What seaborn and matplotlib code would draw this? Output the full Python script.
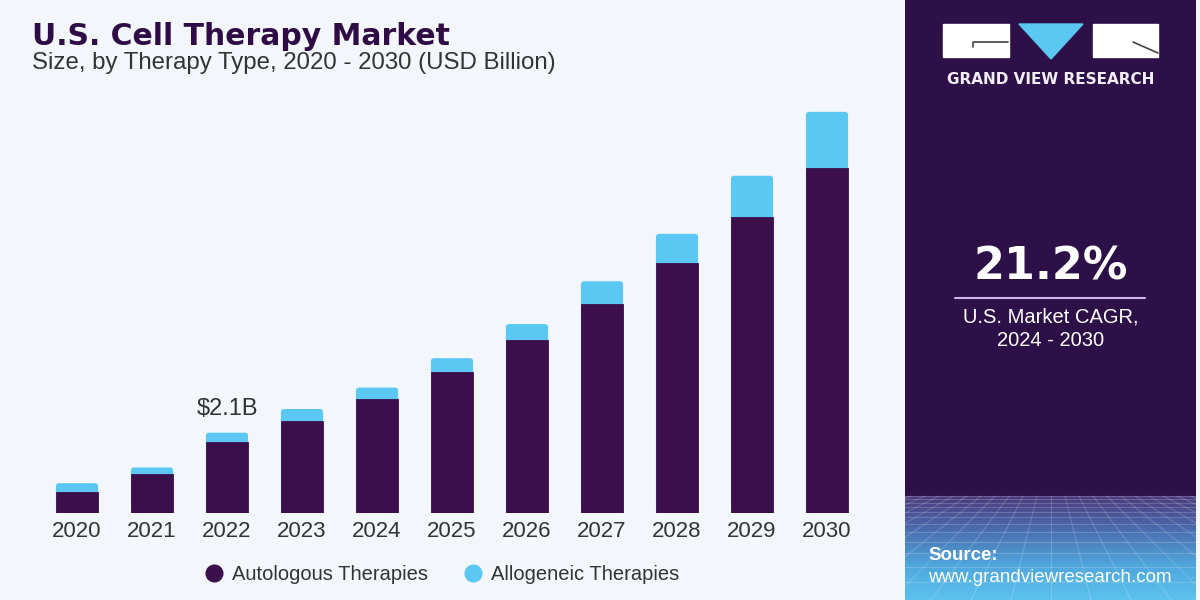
import numpy as np
import pandas as pd
import matplotlib
matplotlib.use("Agg")
import matplotlib.pyplot as plt
import seaborn as sns
from matplotlib.lines import Line2D
from matplotlib.patches import Rectangle, Polygon, FancyBboxPatch
from matplotlib.colors import LinearSegmentedColormap

years = ["2020", "2021", "2022", "2023", "2024", "2025", "2026", "2027", "2028", "2029", "2030"]
autologous = [0.54, 1.01, 1.86, 2.41, 2.97, 3.68, 4.52, 5.47, 6.53, 7.75, 9.01]
allogeneic = [0.24, 0.18, 0.24, 0.31, 0.31, 0.37, 0.42, 0.59, 0.77, 1.07, 1.48]
series_names = ["Autologous Therapies", "Allogeneic Therapies"]
annot_year = "2022"
annot_text = "$2.1B"

BG = "#f3f6fa"
DARK = "#3a0f4b"
LIGHT = "#5ac8f3"
PANEL = "#2e1048"
TITLE = "#2f0c45"

sns.set_theme(style="white")
plt.rcParams["font.family"] = ["Liberation Sans", "DejaVu Sans"]

df = pd.DataFrame({"year": years, "auto": autologous, "allo": allogeneic})
df["total"] = df["auto"] + df["allo"]

fig = plt.figure(figsize=(12, 6), dpi=100, facecolor=BG)
ax = fig.add_axes([39.5 / 1200, 87 / 600, 825 / 1200, 413 / 600])
ax.set_facecolor(BG)

sns.barplot(data=df, x="year", y="total", color=LIGHT, width=0.57, saturation=1, linewidth=0,
            edgecolor="none", ax=ax)
# round the top corners of the stacked totals
for p in list(ax.patches):
    x, y, w, h = p.get_x(), p.get_y(), p.get_width(), p.get_height()
    rb = FancyBboxPatch((x + 0.004, y), w - 0.008, h, boxstyle="round,pad=0,rounding_size=0.045",
                        mutation_aspect=1.96, facecolor=LIGHT, edgecolor="none", linewidth=0)
    p.remove()
    ax.add_patch(rb)
sns.barplot(data=df, x="year", y="auto", color=DARK, width=0.57, saturation=1, linewidth=0.6,
            edgecolor=DARK, ax=ax)

ax.set_xlim(-0.5, 10.5)
ax.set_ylim(0, 10.8)
ax.set_xlabel("")
ax.set_ylabel("")
ax.set_yticks([])
for s in ax.spines.values():
    s.set_visible(False)
ax.tick_params(axis="x", length=0, pad=6, labelsize=16, labelcolor="#333333")

i = years.index(annot_year)
ax.text(i, df["total"][i] + 0.47, annot_text, ha="center", va="baseline", fontsize=17, color="#333333")

# Titles
fig.text(32 / 1200, 1 - 45 / 600, "U.S. Cell Therapy Market", fontsize=21.5, fontweight="bold",
         family="DejaVu Sans", color=TITLE, va="baseline")
fig.text(32 / 1200, 1 - 69 / 600, "Size, by Therapy Type, 2020 - 2030 (USD Billion)", fontsize=17.3,
         color="#333333", va="baseline")

# Legend
handles = [Line2D([0], [0], marker="o", linestyle="", markersize=12, markerfacecolor=c, markeredgecolor=c)
           for c in (DARK, LIGHT)]
fig.legend(handles, series_names, loc="center", bbox_to_anchor=(441.5 / 1200, 1 - 575 / 600), ncol=2,
           frameon=False, fontsize=14.5, handlelength=1.0, handletextpad=0.4, columnspacing=1.7,
           labelcolor="#333333")

# Right panel
pax = fig.add_axes([905 / 1200, 0, 291 / 1200, 1])
pax.axis("off")
pax.add_patch(Rectangle((905, 0), 291, 600, color=PANEL, zorder=0))

grad = np.linspace(0, 1, 100)[:, None]
cmap = LinearSegmentedColormap.from_list("g", ["#4a3a7e", "#4b6fb0", "#4fa6dc", "#5cc2ef"])
pax.imshow(grad, extent=(905, 1196, 600, 496), aspect="auto", cmap=cmap, zorder=1)
for k in range(-12, 25):
    x0 = 1051 + k * 14
    x1 = 1051 + k * 40
    pax.plot([x0, x1], [496, 600], color="white", alpha=0.18, lw=0.8, zorder=2)
yy = 496
step = 3
while yy < 600:
    pax.plot([905, 1196], [yy, yy], color="white", alpha=0.18, lw=0.8, zorder=2)
    yy += step
    step *= 1.18
pax.set_xlim(905, 1196)
pax.set_ylim(600, 0)

# logo
pax.add_patch(Rectangle((943, 24), 66, 33, color="white", zorder=3))
pax.add_patch(Rectangle((1093, 24), 65, 33, color="white", zorder=3))
pax.add_patch(Polygon([(1019, 24), (1083, 24), (1051, 59)], closed=True, color=LIGHT, zorder=3))
pax.plot([973, 973, 1008], [47, 42, 42], color="#444444", lw=1.2, zorder=4)
pax.plot([1133, 1158], [42, 53], color="#444444", lw=1.2, zorder=4)
pax.text(1050.5, 79, "GRAND VIEW RESEARCH", ha="center", va="center", fontsize=11,
         fontweight="bold", family="DejaVu Sans", color="#f2eef6", zorder=4)

pax.text(1051, 280, "21.2%", ha="center", va="baseline", fontsize=32, fontweight="bold",
         family="DejaVu Sans", color="white")
pax.plot([955, 1145], [298, 298], color="#c9b6e4", lw=1.5)
pax.text(1051, 317, "U.S. Market CAGR,", ha="center", va="center", fontsize=14.5, color="white")
pax.text(1051, 340, "2024 - 2030", ha="center", va="center", fontsize=14.5, color="white")

pax.text(928, 555, "Source:", ha="left", va="center", fontsize=13.5, fontweight="bold", color="white", zorder=5)
pax.text(928, 577, "www.grandviewresearch.com", ha="left", va="center", fontsize=13.5, color="white", zorder=5)

fig.savefig("out.png", dpi=100, facecolor=BG)
